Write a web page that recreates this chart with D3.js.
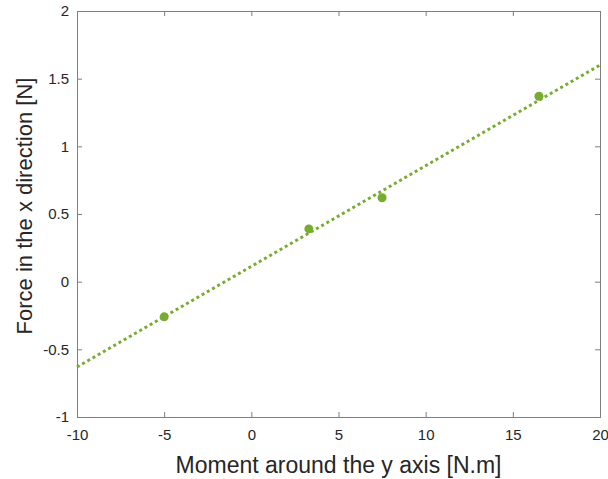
<!DOCTYPE html>
<meta charset="utf-8">
<style>
body { margin: 0; background: #fff; }
text { font-family: "Liberation Sans", Arial, sans-serif; fill: #262626; }
.axis path, .axis line { stroke: #7f7f7f; }
</style>
<body>
<script src="https://d3js.org/d3.v7.min.js"></script>
<script>
// measured points
var momentY = [-5, 3.3, 7.5, 16.5];
var forceX = [-0.26, 0.39, 0.62, 1.37];
// fitted trend line end points
var fitX = [-10, 20];
var fitY = [-0.63, 1.6];
var xTicks = [-10, -5, 0, 5, 10, 15, 20];
var yTicks = [-1, -0.5, 0, 0.5, 1, 1.5, 2];

var margin = {top: 11, right: 8, bottom: 62, left: 77},
    width = 608 - margin.left - margin.right,
    height = 479 - margin.top - margin.bottom;

var x = d3.scaleLinear().domain([-10, 20]).range([0, width]);
var y = d3.scaleLinear().domain([-1, 2]).range([height, 0]);

var svg = d3.select("body").append("svg")
    .attr("width", 608).attr("height", 479)
  .append("g")
    .attr("transform", "translate(" + margin.left + "," + margin.top + ")");

var green = "#77ac30";

// axes, with mirrored inward ticks like a boxed plot
function fmt(d) { return String(d); }
svg.append("g").attr("class", "axis")
    .attr("transform", "translate(0," + height + ")")
    .call(d3.axisBottom(x).tickValues(xTicks).tickSize(-5).tickPadding(12).tickFormat(fmt))
    .call(g => g.selectAll("text").style("font-size", "15px"));
svg.append("g").attr("class", "axis")
    .call(d3.axisTop(x).tickValues(xTicks).tickSize(-5).tickFormat(""));
svg.append("g").attr("class", "axis")
    .call(d3.axisLeft(y).tickValues(yTicks).tickSize(-5).tickPadding(8).tickFormat(fmt))
    .call(g => g.selectAll("text").style("font-size", "15px"));
svg.append("g").attr("class", "axis")
    .attr("transform", "translate(" + width + ",0)")
    .call(d3.axisRight(y).tickValues(yTicks).tickSize(-5).tickFormat(""));
svg.selectAll(".axis path").attr("stroke", "#7f7f7f");

// trend line
var line = d3.line().x(d => x(d[0])).y(d => y(d[1]));
svg.append("path")
    .datum(d3.zip(fitX, fitY))
    .attr("d", line)
    .attr("fill", "none")
    .attr("stroke", green)
    .attr("stroke-width", 3)
    .attr("stroke-dasharray", "3,3");

// points
svg.selectAll(".pt")
    .data(d3.zip(momentY, forceX))
  .enter().append("circle")
    .attr("class", "pt")
    .attr("cx", d => x(d[0]))
    .attr("cy", d => y(d[1]))
    .attr("r", 4.5)
    .attr("fill", green);

// axis titles
svg.append("text")
    .attr("x", width / 2)
    .attr("y", height + 56)
    .attr("text-anchor", "middle")
    .style("font-size", "23px")
    .text("Moment around the y axis [N.m]");
svg.append("text")
    .attr("transform", "translate(" + (-45) + "," + 195 + ") rotate(-90)")
    .attr("text-anchor", "middle")
    .style("font-size", "22px")
    .text("Force in the x direction [N]");
</script>
</body>
